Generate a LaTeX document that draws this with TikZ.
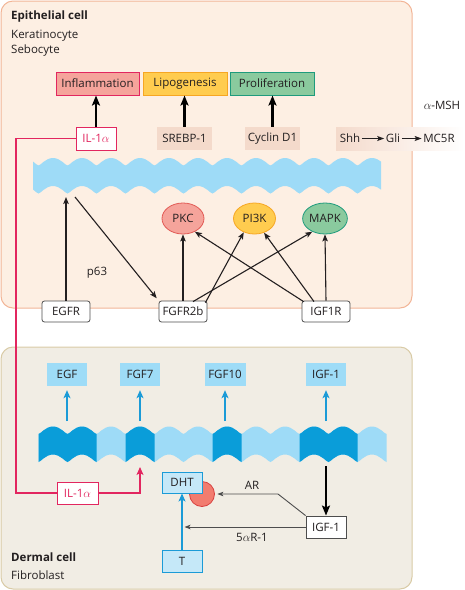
\documentclass[tikz,border=0pt]{standalone}
\usepackage{fontspec}
\setmainfont{Open Sans}
\usetikzlibrary{arrows.meta,calc,shapes.geometric}
\definecolor{epifill}{HTML}{FDEFE3}
\definecolor{epiborder}{HTML}{F2B597}
\definecolor{dermfill}{HTML}{F1EDE4}
\definecolor{dermborder}{HTML}{D9CBA6}
\definecolor{memlight}{HTML}{9EDBF7}
\definecolor{memdark}{HTML}{0A9DD9}
\definecolor{crimson}{HTML}{E2265F}
\definecolor{inflfill}{HTML}{F5A49B}
\definecolor{lipofill}{HTML}{FFCC4F}
\definecolor{lipoborder}{HTML}{F6A623}
\definecolor{prolfill}{HTML}{8ACA9E}
\definecolor{prolborder}{HTML}{1E9B7C}
\definecolor{tagfill}{HTML}{F4DACB}
\definecolor{pkcborder}{HTML}{E25A55}
\definecolor{bluefill}{HTML}{9EDCF7}
\definecolor{dhtfill}{HTML}{C5E8F8}
\definecolor{blueline}{HTML}{1B9BD7}
\definecolor{arfill}{HTML}{F27C6F}
\definecolor{arborder}{HTML}{D8403F}
\definecolor{txt}{HTML}{231F20}
\definecolor{lgray}{HTML}{4D4D4D}
\newcommand{\wavyband}[2]{%
 (9.5,#1) \foreach \k in {0,...,13}{ .. controls ({9.5+29*\k+2},#1) and ({9.5+29*\k+7},{#1-7.5}) .. ({9.5+29*\k+14.5},{#1-7.5}) .. controls ({9.5+29*\k+22},{#1-7.5}) and ({9.5+29*\k+27},#1) .. ({9.5+29*(\k+1)},#1) }
 -- ({9.5+29*14},#2) \foreach \k in {13,...,0}{ .. controls ({9.5+29*\k+27},#2) and ({9.5+29*\k+22},{#2-7.5}) .. ({9.5+29*\k+14.5},{#2-7.5}) .. controls ({9.5+29*\k+7},{#2-7.5}) and ({9.5+29*\k+2},#2) .. ({9.5+29*\k},#2) } -- cycle}
\tikzset{
 lbl/.style={inner sep=0pt, text=txt},
 box/.style={minimum height=23pt, inner sep=0pt, text=txt, line width=1pt},
 rbox/.style={minimum height=21pt, minimum width=48pt, inner sep=0pt, text=txt, draw=lgray, fill=white, rounded corners=2.5pt, line width=0.8pt},
 bluebox/.style={minimum height=23pt, inner sep=0pt, text=txt, fill=bluefill},
 oval/.style={ellipse, minimum width=42pt, minimum height=31pt, inner sep=0pt, text=txt, line width=0.8pt},
 thickarrow/.style={line width=2.2pt, draw=black, -{Stealth[length=10pt,width=8pt,inset=2pt]}},
 thinarrow/.style={line width=1.1pt, draw=txt, -{Stealth[length=7pt,width=5.5pt,inset=1.5pt]}},
 grayarrow/.style={line width=0.9pt, draw=lgray, -{Stealth[length=6pt,width=4.5pt,inset=1.5pt]}},
 bluearrow/.style={line width=1.8pt, draw=blueline, -{Stealth[length=8pt,width=7pt,inset=2pt]}},
 redline/.style={line width=1.8pt, draw=crimson},
}
\begin{document}
\begin{tikzpicture}[x=1pt,y=-1pt,font=\fontsize{11.5}{13}\selectfont]
\useasboundingbox (0,0) rectangle (464,590);
% cell boxes
\draw[rounded corners=12pt, fill=epifill, draw=epiborder, line width=1pt] (1,1) rectangle (412,308);
\draw[rounded corners=12pt, fill=dermfill, draw=dermborder, line width=1pt] (1,347) rectangle (412,589);
% titles
\node[lbl, anchor=west, font=\fontsize{11.5}{13}\selectfont\bfseries] (epi) at (11,17) {Epithelial cell};
\node[lbl, anchor=west] (kera) at (11,36) {Keratinocyte};
\node[lbl, anchor=west] (sebo) at (11,51) {Sebocyte};
\node[lbl, anchor=west, font=\fontsize{11.5}{13}\selectfont\bfseries] (derm) at (11,557) {Dermal cell};
\node[lbl, anchor=west] (fibro) at (11,575) {Fibroblast};
% top membrane
\begin{scope}
\clip (33,140) rectangle (381,200);
\fill[memlight] \wavyband{165.5}{193.5};
\end{scope}
% bottom membrane
\begin{scope}
\clip (38.5,410) rectangle (386.5,470);
\fill[memlight] \wavyband{434}{462};
\end{scope}
\begin{scope}
\clip (38.5,410) rectangle (96.5,470) (125.5,410) rectangle (154.5,470) (212.5,410) rectangle (241.5,470) (299.5,410) rectangle (357.5,470);
\fill[memdark] \wavyband{434}{462};
\end{scope}
% top outcome boxes
\node[box, fill=inflfill, draw=crimson, minimum width=83pt] (infl) at (97.5,83.5) {Inflammation};
\node[box, fill=lipofill, draw=lipoborder, minimum width=84pt] (lipo) at (185,83.5) {Lipogenesis};
\node[box, fill=prolfill, draw=prolborder, minimum width=84pt] (prol) at (272,83.5) {Proliferation};
\node[box, fill=white, draw=crimson, text=crimson, minimum width=40pt] (iltop) at (96,138.5) {IL-1$\alpha$};
\node[box, fill=tagfill, minimum width=55pt] (srebp) at (184.5,138.5) {SREBP-1};
\node[box, fill=tagfill, minimum width=55pt] (cyc) at (272.5,138.5) {Cyclin D1};
\node[box, minimum width=128pt, left color=tagfill, right color=white] (shhbg) at (400,138.5) {};
\node[lbl, inner sep=1.5pt] (shh) at (350,138.5) {Shh};
\node[lbl, inner sep=1.5pt] (gli) at (393,138.5) {Gli};
\node[lbl, inner sep=1.5pt] (mc5r) at (439,138.5) {MC5R};
\node[lbl] (msh) at (442,105) {$\alpha$-MSH};
\draw[thickarrow] (iltop.north) -- (iltop.north |- infl.south);
\draw[thickarrow] (srebp.north) -- (srebp.north |- lipo.south);
\draw[thickarrow] (cyc.north) -- (cyc.north |- prol.south);
\draw[line width=1pt, draw=txt, -{Stealth[length=7pt,width=5pt,inset=1.5pt]}] (shh) -- (gli);
\draw[line width=1pt, draw=txt, -{Stealth[length=7pt,width=5pt,inset=1.5pt]}] (gli) -- (mc5r);
% kinases
\node[oval, fill=inflfill, draw=pkcborder] (pkc) at (183,218.5) {PKC};
\node[oval, fill=lipofill, draw=lipoborder] (pi3k) at (254.5,218.5) {PI3K};
\node[oval, fill=prolfill, draw=prolborder] (mapk) at (325,218.5) {MAPK};
% receptors
\node[rbox] (egfr) at (66,311.5) {EGFR};
\node[rbox] (fgfr) at (183,311.5) {FGFR2b};
\node[rbox] (igf1r) at (326,311.5) {IGF1R};
\coordinate (mt) at (75,197);
\node[lbl] (p63) at (97,273) {p63};
\draw[thinarrow] (egfr.north) -- (egfr.north |- mt);
\draw[thinarrow, shorten >=3pt] (mt) -- (fgfr.north west);
\draw[thinarrow] (fgfr.north) -- (pkc.south);
\draw[thinarrow] ($(fgfr.north)+(10,1)$) -- (mapk.-134);
\draw[thinarrow] ($(fgfr.north east)+(-2,2)$) -- (pi3k.-128);
\draw[thinarrow] ($(igf1r.north)+(-12,1)$) -- (pi3k.-56);
\draw[thinarrow] ($(igf1r.north west)+(2,1)$) -- (pkc.-48);
\draw[thinarrow] (igf1r.north) -- (mapk.south);
% dermal secreted factors
\node[bluebox, minimum width=40pt] (egf) at (67,374.5) {EGF};
\node[bluebox, minimum width=40pt] (fgf7) at (140,374.5) {FGF7};
\node[bluebox, minimum width=41pt] (fgf10) at (225,374.5) {FGF10};
\node[bluebox, minimum width=40pt] (igf1t) at (326,374.5) {IGF-1};
\coordinate (bm) at (0,421);
\draw[bluearrow, shorten >=4pt] (egf.south |- bm) -- (egf.south);
\draw[bluearrow, shorten >=4pt] (fgf7.south |- bm) -- (fgf7.south);
\draw[bluearrow, shorten >=4pt] (fgf10.south |- bm) -- (fgf10.south);
\draw[bluearrow, shorten >=4pt] (igf1t.south |- bm) -- (igf1t.south);
% androgen part
\node[circle, minimum size=25pt, inner sep=0pt, fill=arfill, draw=arborder, line width=0.8pt] (ar) at (202,494) {};
\node[box, minimum height=21pt, minimum width=40pt, fill=dhtfill, draw=blueline] (dht) at (182,482.5) {DHT};
\node[box, minimum height=22pt, minimum width=40pt, fill=dhtfill, draw=blueline] (t) at (182,561) {T};
\node[box, minimum height=22pt, minimum width=40pt, fill=white, draw=lgray, line width=0.9pt] (igf1b) at (326,527) {IGF-1};
\draw[bluearrow] (t.north) -- (dht.south);
\coordinate (igfs) at (326,466);
\draw[thickarrow] (igfs) -- (igf1b.north);
\coordinate (arbend) at (278,494);
\draw[grayarrow, shorten >=2.5pt] (igf1b.north west) -- (arbend) -- (ar.east);
\node[lbl] (arl) at (252,485) {AR};
\draw[grayarrow, shorten >=2.5pt] (igf1b.west) -- (t.north |- igf1b.west);
\node[lbl] (sar) at (252,537) {5$\alpha$R-1};
% IL-1 alpha red route
\node[box, minimum height=22pt, minimum width=41pt, fill=white, draw=crimson, text=crimson] (ilbot) at (77.5,493) {IL-1$\alpha$};
\coordinate (redcorner) at (16,300);
\coordinate (redtip) at (140,467);
\draw[redline] (iltop.west) -| (redcorner) |- (ilbot.west);
\draw[redline, -{Stealth[length=8pt,width=7pt,inset=2pt]}] (ilbot.east) -| (redtip);
\end{tikzpicture}
\end{document}
